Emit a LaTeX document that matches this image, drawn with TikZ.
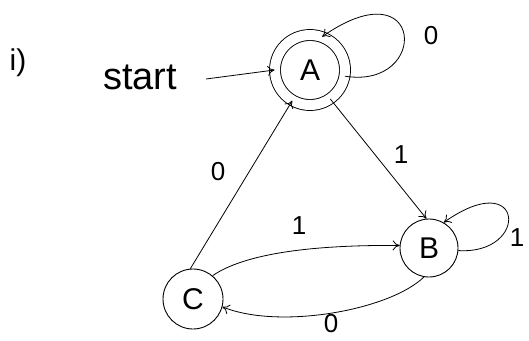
\documentclass[tikz,border=0pt]{standalone}
\usepackage{fontspec}
\setmainfont{Liberation Sans}
\usetikzlibrary{arrows.meta}
\begin{document}
\begin{tikzpicture}[x=1pt,y=-1pt,
  st/.style={draw,circle,line width=0.9pt,minimum size=58pt,inner sep=0pt,font=\fontsize{30}{30}\selectfont},
  acc/.style={st,double,double distance=10pt,minimum size=70pt},
  edge/.style={draw,line width=0.8pt,-{To[length=7pt,width=10pt]}},
  lbl/.style={font=\fontsize{26}{26}\selectfont}]
\useasboundingbox (0,0) rectangle (529,340);
\node[font=\fontsize{30}{30}\selectfont] (num) at (18,63) {i)};
\node[acc] (A) at (310,70) {A};
\node[st] (B) at (429,248) {B};
\node[st,minimum size=60pt] (C) at (193,299) {C};
\node[font=\fontsize{38}{38}\selectfont] (start) at (140,77) {start};
\coordinate (s0) at (206,79);
\draw[edge] (s0) -- (A.west);
\draw[edge] (A.-10) .. controls (430,90) and (425,-35) .. (A.70);
\node[lbl] (l1) at (431,36) {0};
\draw[edge] (A.-55) -- (B.95);
\node[lbl] (l2) at (401,155) {1};
\draw[edge] (C.95) -- (A.-120);
\node[lbl] (l3) at (218,172) {0};
\draw[edge] (C.50) .. controls (250,250) and (330,245) .. (B.175);
\node[lbl] (l4) at (299,226) {1};
\draw[edge] (B.-100) .. controls (390,310) and (280,330) .. (C.-15);
\node[lbl] (l5) at (331,324) {0};
\draw[edge] (B.-5) .. controls (530,255) and (525,165) .. (B.60);
\node[lbl] (l6) at (517,238) {1};
\end{tikzpicture}
\end{document}
